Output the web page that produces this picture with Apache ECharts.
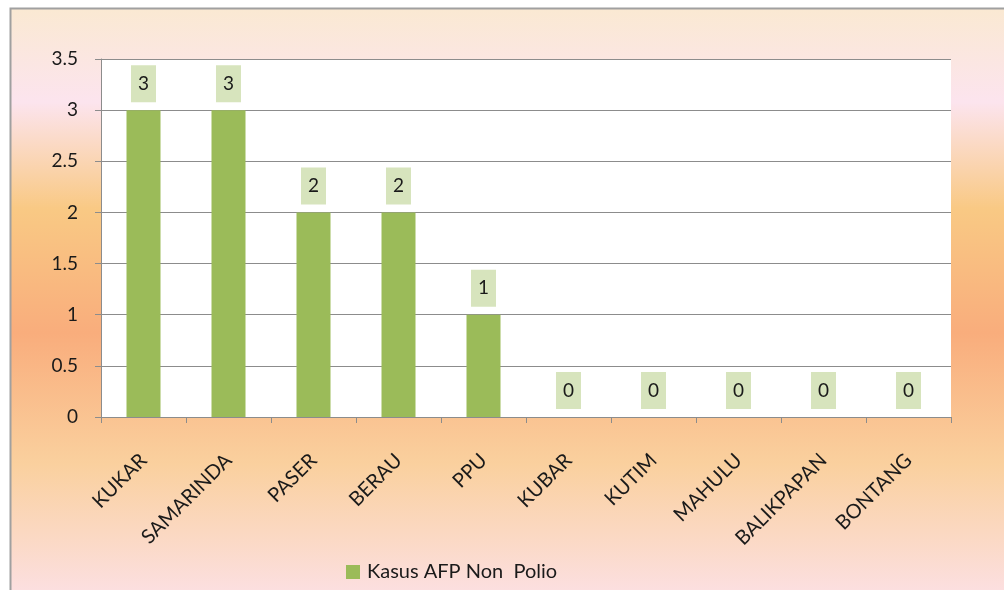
<!DOCTYPE html>
<html><head><meta charset="utf-8">
<script src="https://cdn.jsdelivr.net/npm/echarts@6/dist/echarts.min.js"></script>
<style>html,body{margin:0;padding:0;background:#fff}#c{width:1004px;height:590px}</style>
</head><body><div id="c"></div>
<script>
var categories = ["KUKAR","SAMARINDA","PASER","BERAU","PPU","KUBAR","KUTIM","MAHULU","BALIKPAPAN","BONTANG"];
var values = [3,3,2,2,1,0,0,0,0,0];
var seriesName = "Kasus AFP Non  Polio";
var yTicks = {min:0, max:3.5, interval:0.5};

var chart = echarts.init(document.getElementById('c'));
var font = 'Lato, "Open Sans", sans-serif';
chart.setOption({
  animation:false,
  backgroundColor:'#fff',
  graphic:{elements:[{
    type:'rect', z:-100, silent:true,
    shape:{x:10.5,y:8.5,width:1000,height:590},
    style:{
      fill:new echarts.graphic.LinearGradient(0,0,0,1,[
        {offset:0,color:'#FAE9D2'},
        {offset:0.16,color:'#FCE4EE'},
        {offset:0.34,color:'#F9C984'},
        {offset:0.55,color:'#F9AD7C'},
        {offset:0.77,color:'#FAD09E'},
        {offset:1,color:'#FCE0E4'}
      ]),
      stroke:'#A0A0A0', lineWidth:2
    }
  }]},
  grid:{left:101,right:53,top:59,bottom:173,show:true,backgroundColor:'#fff',borderWidth:0,containLabel:false},
  legend:{
    left:341, top:557, itemWidth:14, itemHeight:14, itemGap:10,
    textStyle:{fontSize:20,color:'#1a1a1a',fontFamily:font,padding:[0,0,0,2]},
    data:[{name:seriesName,icon:'rect'}]
  },
  xAxis:{
    type:'category', data:categories,
    axisLine:{lineStyle:{color:'#8C8C8C',width:1}},
    axisTick:{show:true,length:6,alignWithLabel:false,lineStyle:{color:'#8C8C8C'}},
    axisLabel:{rotate:45,fontSize:20,color:'#1a1a1a',fontFamily:font,margin:40,interval:0}
  },
  yAxis:{
    type:'value', min:yTicks.min, max:yTicks.max, interval:yTicks.interval,
    axisLine:{show:true,lineStyle:{color:'#8C8C8C'}},
    axisTick:{show:true,length:6,lineStyle:{color:'#8C8C8C'}},
    splitLine:{lineStyle:{color:'#8C8C8C',width:1}},
    axisLabel:{fontSize:19,color:'#1a1a1a',fontFamily:font,margin:23}
  },
  series:[{
    name:seriesName, type:'bar', data:values,
    barCategoryGap:'60%',
    itemStyle:{color:'#9BBB59'},
    label:{
      show:true, position:'top', distance:8,
      fontSize:19, color:'#1a1a1a', fontFamily:font,
      backgroundColor:'#D7E4BD', padding:[9,7,9,7], lineHeight:19
    }
  }]
});
</script></body></html>
